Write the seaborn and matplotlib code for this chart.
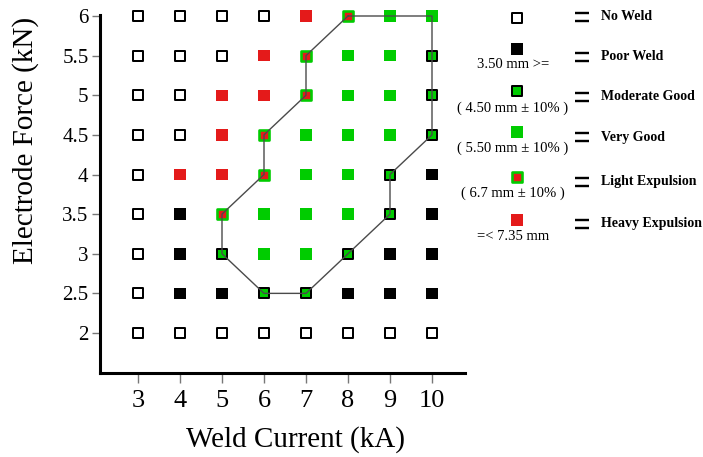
import matplotlib
matplotlib.use("Agg")
import matplotlib.pyplot as plt
import seaborn as sns
import pandas as pd

# ---------------- data ----------------
currents = [3, 4, 5, 6, 7, 8, 9, 10]
forces = [6.0, 5.5, 5.0, 4.5, 4.0, 3.5, 3.0, 2.5, 2.0]
# N = No Weld, P = Poor Weld, M = Moderate Good, V = Very Good,
# L = Light Expulsion, H = Heavy Expulsion   (one row per force, currents 3..10)
quality_f60 = ["N", "N", "N", "N", "H", "L", "V", "V"]
quality_f55 = ["N", "N", "N", "H", "L", "V", "V", "M"]
quality_f50 = ["N", "N", "H", "H", "L", "V", "V", "M"]
quality_f45 = ["N", "N", "H", "L", "V", "V", "V", "M"]
quality_f40 = ["N", "H", "H", "L", "V", "V", "M", "P"]
quality_f35 = ["N", "P", "L", "V", "V", "V", "M", "P"]
quality_f30 = ["N", "P", "M", "V", "V", "M", "P", "P"]
quality_f25 = ["N", "P", "P", "M", "M", "P", "P", "P"]
quality_f20 = ["N", "N", "N", "N", "N", "N", "N", "N"]
quality_rows = [quality_f60, quality_f55, quality_f50, quality_f45, quality_f40,
                quality_f35, quality_f30, quality_f25, quality_f20]

# boundary of the acceptable weld lobe
boundary_current = [8, 10, 10, 9, 9, 8, 7, 6, 5, 5, 6, 6, 7, 7, 8]
boundary_force = [6, 6, 4.5, 4, 3.5, 3, 2.5, 2.5, 3, 3.5, 4, 4.5, 5, 5.5, 6]

category_codes = ["N", "P", "M", "V", "L", "H"]
category_names = ["No Weld", "Poor Weld", "Moderate Good", "Very Good",
                  "Light Expulsion", "Heavy Expulsion"]
category_notes = ["", "3.50 mm >=", "( 4.50 mm \u00b1 10% )", "( 5.50 mm \u00b1 10% )",
                  "( 6.7 mm \u00b1 10% )", "=< 7.35 mm"]

x_ticks = [3, 4, 5, 6, 7, 8, 9, 10]
y_ticks = [2, 2.5, 3, 3.5, 4, 4.5, 5, 5.5, 6]
y_ticklabels = ["2", "2.5", "3", "3.5", "4", "4.5", "5", "5.5", "6"]

# ---------------- styles ----------------
RED = "#E41A1A"
GREEN = "#00CC00"
PX = 72 / 100.0  # points per pixel at dpi 100
styles = {
    "N": dict(color="white", edgecolor="black", linewidth=2.0 * PX, s=(9.8 * PX) ** 2),
    "P": dict(color="black", edgecolor="none", linewidth=0, s=(11.5 * PX) ** 2),
    "M": dict(color=GREEN, edgecolor="black", linewidth=2.0 * PX, s=(9.8 * PX) ** 2),
    "V": dict(color=GREEN, edgecolor="none", linewidth=0, s=(11.5 * PX) ** 2),
    "L": dict(color=RED, edgecolor=GREEN, linewidth=2.6 * PX, s=(9.2 * PX) ** 2),
    "H": dict(color=RED, edgecolor="none", linewidth=0, s=(11.5 * PX) ** 2),
}

records = []
for f, row in zip(forces, quality_rows):
    for c, q in zip(currents, row):
        records.append({"current": c, "force": f, "quality": q})
df = pd.DataFrame(records)

sns.set_theme(style="white")
plt.rcParams["font.family"] = ["Liberation Serif", "DejaVu Serif"]
plt.rcParams["text.color"] = "black"
plt.rcParams["axes.labelcolor"] = "black"
plt.rcParams["xtick.color"] = "black"
plt.rcParams["ytick.color"] = "black"

W, H = 703, 457
fig = plt.figure(figsize=(W / 100, H / 100), dpi=100)
L_, R_, T_, B_ = 100, 465, 15, 373
ax = fig.add_axes([L_ / W, (H - B_) / H, (R_ - L_) / W, (B_ - T_) / H])

for code in category_codes:
    sub = df[df["quality"] == code]
    sns.scatterplot(data=sub, x="current", y="force", marker="s", ax=ax,
                    legend=False, zorder=2, clip_on=False, **styles[code])

sns.lineplot(x=boundary_current, y=boundary_force, sort=False, estimator=None,
             color="#4a4a4a", linewidth=1.0, ax=ax, zorder=3, clip_on=False)

# axis ranges (3 at px 138, 10 at px 432; 6 at px 16, 2 at px 333)
ppx = (432 - 138) / 7
ax.set_xlim(3 - (138 - L_) / ppx, 10 + (R_ - 432) / ppx)
ppy = (333 - 16) / 4
ax.set_ylim(2 - (B_ - 333) / ppy, 6 + (16 - T_) / ppy)

ax.set_xticks(x_ticks)
ax.set_xticklabels([str(v) for v in x_ticks], fontsize=19)
ax.set_yticks(y_ticks)
ax.set_yticklabels(y_ticklabels, fontsize=15)
ax.tick_params(axis="x", direction="out", length=10 * PX, width=1.0, color="#777777",
               labelcolor="black", pad=5, bottom=True)
ax.tick_params(axis="y", direction="out", length=8 * PX, width=1.0, color="#777777",
               labelcolor="black", pad=2.5, left=True)
for side in ["top", "right"]:
    ax.spines[side].set_visible(False)
for side in ["left", "bottom"]:
    ax.spines[side].set_color("black")
    ax.spines[side].set_linewidth(2.2)
ax.grid(False)

ax.set_xlabel("Weld Current (kA)", fontsize=21, va="center", color="black")
ax.xaxis.set_label_coords((295 - L_) / (R_ - L_), (B_ - 440) / (B_ - T_))
ax.set_ylabel("Electrode Force (kN)", fontsize=21, va="center", color="black")
ax.yaxis.set_label_coords((26 - L_) / (R_ - L_), (B_ - 140) / (B_ - T_))

# ---------------- legend (manual, pixel-placed) ----------------
lax = fig.add_axes([0, 0, 1, 1])
lax.set_xlim(0, W)
lax.set_ylim(H, 0)
lax.axis("off")
lax.patch.set_alpha(0)

marker_y = [18, 49, 91, 132, 177, 220]
note_y = [0, 64, 108, 148, 193, 237]
label_y = [17, 57, 97, 137, 182, 224]
for code, name, note, my, ny, ly in zip(category_codes, category_names, category_notes,
                                         marker_y, note_y, label_y):
    st = dict(styles[code])
    lax.scatter([517], [my], marker="s", zorder=3, c=[st.pop("color")], **st)
    if note:
        lax.text(513, ny, note, fontsize=10.5, ha="center", va="center", color="black")
    # the "=" sign drawn as two short bars
    for dy in (-4, 4):
        lax.plot([575, 589], [ly + dy, ly + dy], color="black", linewidth=2.0 * PX * 1.2,
                 solid_capstyle="butt")
    lax.text(601, ly, name, fontsize=10, fontweight="bold", ha="left", va="center",
             color="black")

fig.savefig("out.png", dpi=100)
